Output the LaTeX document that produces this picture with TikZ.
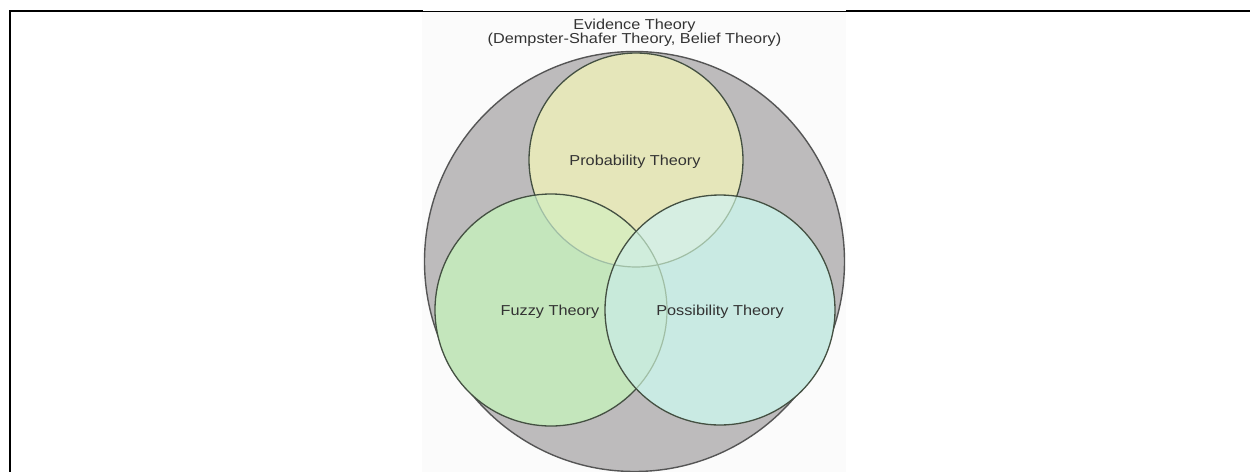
\documentclass[tikz,border=0pt]{standalone}
\usepackage{fontspec}
\setmainfont{Liberation Sans}
\newfontfamily\lblfont[FakeStretch=1.13]{Liberation Sans}
\definecolor{evid}{RGB}{189,187,188}
\definecolor{probc}{RGB}{229,230,186}
\definecolor{fuzzc}{RGB}{196,230,188}
\definecolor{possc}{RGB}{201,234,227}
\definecolor{pfc}{RGB}{216,236,190}
\definecolor{psc}{RGB}{214,238,226}
\definecolor{fsc}{RGB}{200,234,218}
\definecolor{pfsc}{RGB}{208,237,220}
\definecolor{edgec}{RGB}{68,80,66}
\definecolor{outerc}{RGB}{85,85,85}
\definecolor{faintc}{RGB}{160,190,165}
\definecolor{txtc}{RGB}{51,51,51}
\definecolor{imgbg}{RGB}{251,251,251}
\tikzset{
  edge/.style={draw=edgec, line width=0.65pt},
  outeredge/.style={draw=outerc, line width=0.7pt},
  faintedge/.style={draw=faintc, line width=0.6pt},
  lbl/.style={text=txtc, font=\lblfont\fontsize{7.2}{8.6}\selectfont, inner sep=0pt, anchor=base},
  frame/.style={draw=black, line width=1pt},
}
\begin{document}
\begin{tikzpicture}[x=0.5pt,y=-0.5pt]
\useasboundingbox (0,0) rectangle (1250,472);
% page frame
\fill[imgbg] (422,11.5) rectangle (846,472);
\coordinate (fa) at (10,472);
\coordinate (fb) at (10,11);
\coordinate (fc) at (422,11);
\coordinate (fd) at (846,11);
\coordinate (fe) at (1250,11);
\draw[frame, line cap=rect] (fa) -- (fb) -- (fc);
\draw[frame] (fd) -- (fe);
\draw[draw=black, line width=0.5pt] (fc) -- (fd);
% centres
\coordinate (O) at (634.5,261.5);
\coordinate (P) at (636,160);
\coordinate (F) at (551,310);
\coordinate (S) at (720,310);
\def\outerpath{(O) circle[radius=105pt]}
\def\probpath{(P) circle[radius=53.5pt]}
\def\fuzzypath{(F) circle[radius=58pt]}
\def\posspath{(S) circle[radius=57.5pt]}
% evidence theory
\fill[evid] \outerpath;
\draw[outeredge] \outerpath;
% probability
\fill[probc] \probpath;
\draw[edge] \probpath;
% fuzzy
\fill[fuzzc] \fuzzypath;
\begin{scope}
  \clip \fuzzypath;
  \fill[pfc] \probpath;
  \draw[faintedge] \probpath;
\end{scope}
\draw[edge] \fuzzypath;
% possibility
\fill[possc] \posspath;
\begin{scope}
  \clip \posspath;
  \fill[psc] \probpath;
  \fill[fsc] \fuzzypath;
  \begin{scope}
    \clip \fuzzypath;
    \fill[pfsc] \probpath;
  \end{scope}
  \draw[faintedge] \probpath;
  \draw[faintedge] \fuzzypath;
\end{scope}
\draw[edge] \posspath;
% labels
\node[lbl] (t1) at (634.5,29.5) {Evidence Theory};
\node[lbl] (t2) at (634.5,43.5) {(Dempster-Shafer Theory, Belief Theory)};
\node[lbl] (lp) at (635,165) {Probability Theory};
\node[lbl] (lf) at (550,315) {Fuzzy Theory};
\node[lbl] (ls) at (720,315) {Possibility Theory};
\end{tikzpicture}
\end{document}
